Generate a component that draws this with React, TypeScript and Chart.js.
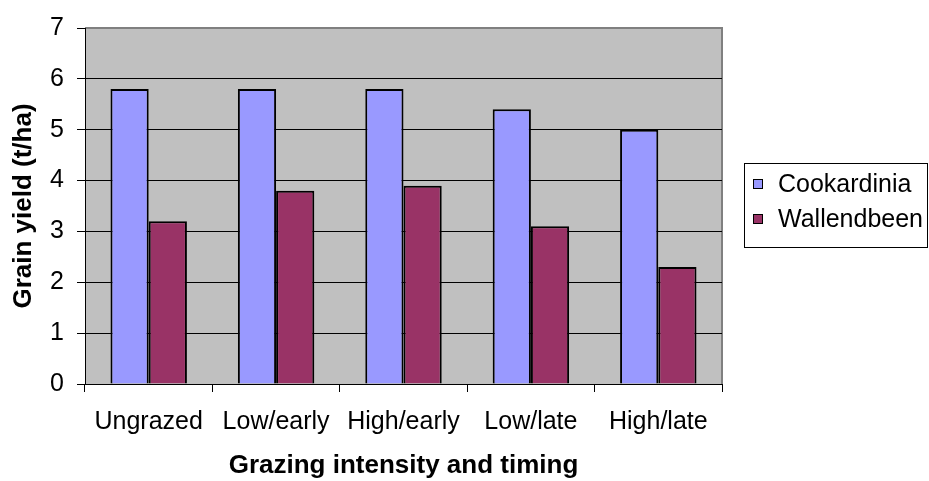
import React, { useEffect, useRef } from "react";
import { Chart, registerables } from "chart.js";

Chart.register(...registerables);

const categories = ["Ungrazed", "Low/early", "High/early", "Low/late", "High/late"];
const cookardinia = [5.8, 5.8, 5.8, 5.4, 5.0];
const wallendbeen = [3.2, 3.8, 3.9, 3.1, 2.3];
const seriesNames = ["Cookardinia", "Wallendbeen"];
const seriesColors = ["#9999FF", "#993366"];
const yTitle = "Grain yield (t/ha)";
const xTitle = "Grazing intensity and timing";
const yMin = 0;
const yMax = 7;

const FONT = "'Liberation Sans', Arial, Helvetica, sans-serif";

const plotBgPlugin = {
  id: "plotBg",
  beforeDraw(chart: any) {
    const { ctx, chartArea } = chart;
    const { left, top, right, bottom } = chartArea;
    ctx.save();
    ctx.fillStyle = "#C0C0C0";
    ctx.fillRect(left, top, right - left, bottom - top);
    ctx.strokeStyle = "#808080";
    ctx.lineWidth = 2;
    ctx.beginPath();
    ctx.moveTo(left, top);
    ctx.lineTo(right, top);
    ctx.lineTo(right, bottom);
    ctx.stroke();
    ctx.restore();
  },
};

const boxLegendPlugin = {
  id: "boxLegend",
  afterDraw(chart: any) {
    const { ctx } = chart;
    const datasets = chart.data.datasets;
    const boxL = 744;
    const boxT = 163;
    const boxW = 183;
    const boxH = 84;
    ctx.save();
    ctx.fillStyle = "#FFFFFF";
    ctx.fillRect(boxL, boxT, boxW, boxH);
    ctx.strokeStyle = "#000000";
    ctx.lineWidth = 1;
    ctx.strokeRect(boxL + 0.5, boxT + 0.5, boxW, boxH);
    ctx.font = `25px ${FONT}`;
    ctx.textBaseline = "alphabetic";
    ctx.textAlign = "left";
    datasets.forEach((ds: any, i: number) => {
      const baseline = 192 + i * 35;
      ctx.fillStyle = ds.backgroundColor;
      ctx.fillRect(753, baseline - 13, 9, 9);
      ctx.strokeStyle = "#000000";
      ctx.lineWidth = 1;
      ctx.strokeRect(753.5, baseline - 12.5, 9, 9);
      ctx.fillStyle = "#000000";
      ctx.fillText(ds.label, 778, baseline);
    });
    ctx.restore();
  },
};

export default function App() {
  const ref = useRef<HTMLCanvasElement | null>(null);

  useEffect(() => {
    if (!ref.current) return;
    const chart = new Chart(ref.current, {
      type: "bar",
      data: {
        labels: categories,
        datasets: [
          {
            label: seriesNames[0],
            data: cookardinia,
            backgroundColor: seriesColors[0],
            borderColor: "#000000",
            borderWidth: 2,
            categoryPercentage: 0.6,
            barPercentage: 1,
          },
          {
            label: seriesNames[1],
            data: wallendbeen,
            backgroundColor: seriesColors[1],
            borderColor: "#000000",
            borderWidth: 2,
            categoryPercentage: 0.6,
            barPercentage: 1,
          },
        ],
      },
      options: {
        responsive: false,
        animation: false,
        devicePixelRatio: 1,
        layout: { padding: { top: 27, right: 207, bottom: 0, left: 0 } },
        plugins: {
          legend: { display: false },
          tooltip: { enabled: false },
          title: { display: false },
        },
        scales: {
          x: {
            afterFit: (scale: any) => {
              scale.height = 97;
            },
            grid: {
              display: true,
              drawOnChartArea: false,
              drawTicks: true,
              tickLength: 8,
              color: "#000000",
              offset: true,
            },
            border: { display: true, color: "#000000", width: 1 },
            ticks: {
              color: "#000000",
              font: { family: FONT, size: 25 },
              padding: 15,
              maxRotation: 0,
              autoSkip: false,
            },
            title: {
              display: true,
              text: xTitle,
              color: "#000000",
              font: { family: FONT, size: 26, weight: "bold" },
              padding: { top: 0, bottom: 0 },
            },
          },
          y: {
            min: yMin,
            max: yMax,
            afterFit: (scale: any) => {
              scale.width = 85;
            },
            grid: {
              color: (c: any) => (c.tick && c.tick.value === yMax ? "#808080" : "#000000"),
              tickColor: "#000000",
              lineWidth: 1,
              drawTicks: true,
              tickLength: 8,
            },
            border: { display: true, color: "#000000", width: 1 },
            ticks: {
              stepSize: 1,
              color: "#000000",
              font: { family: FONT, size: 25 },
              padding: 13,
            },
            title: {
              display: true,
              text: yTitle,
              color: "#000000",
              font: { family: FONT, size: 26, weight: "bold" },
              padding: { top: 8, bottom: 0 },
            },
          },
        },
      },
      plugins: [plotBgPlugin, boxLegendPlugin],
    });
    return () => chart.destroy();
  }, []);

  return (
    <div style={{ position: "fixed", left: 0, top: 0, width: 929, height: 481, background: "#FFFFFF" }}>
      <canvas ref={ref} width={929} height={481} style={{ width: 929, height: 481, display: "block" }} />
    </div>
  );
}
